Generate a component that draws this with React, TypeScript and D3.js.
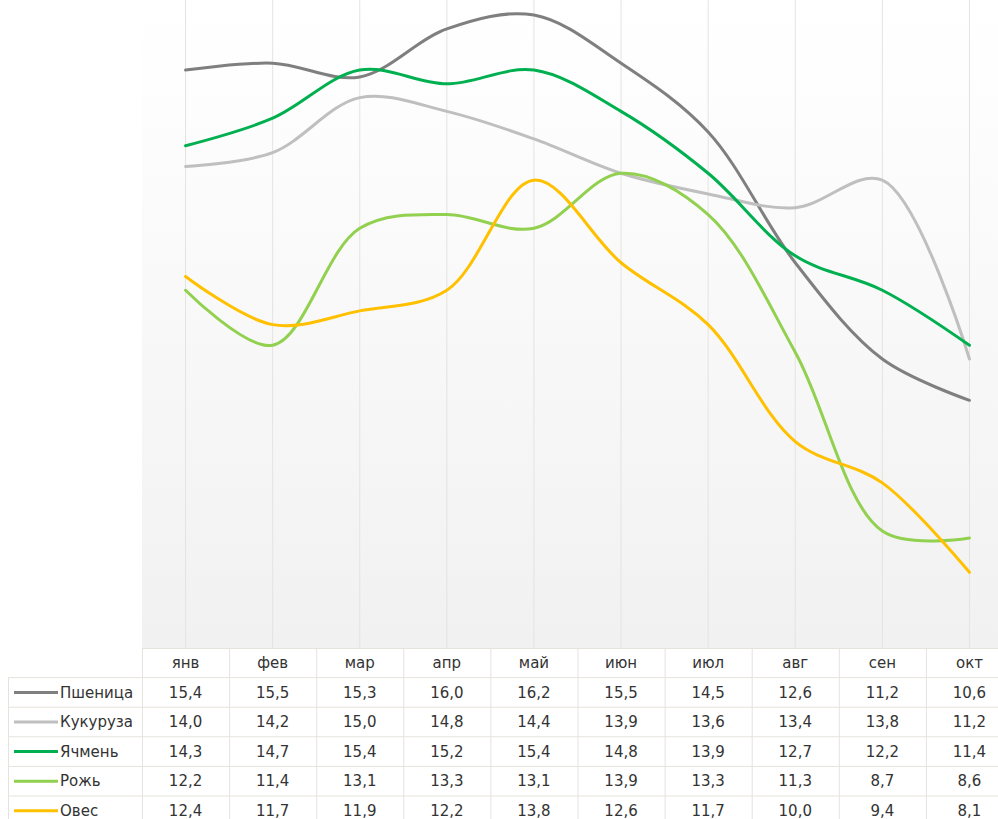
import React from "react";
import * as d3 from "d3";

const months = ["янв", "фев", "мар", "апр", "май", "июн", "июл", "авг", "сен", "окт"];
const seriesNames = ["Пшеница", "Кукуруза", "Ячмень", "Рожь", "Овес"];
const colors = ["#7f7f7f", "#bfbfbf", "#00b050", "#92d050", "#ffc000"];
const wheat = [15.4, 15.5, 15.3, 16.0, 16.2, 15.5, 14.5, 12.6, 11.2, 10.6];
const corn = [14.0, 14.2, 15.0, 14.8, 14.4, 13.9, 13.6, 13.4, 13.8, 11.2];
const barley = [14.3, 14.7, 15.4, 15.2, 15.4, 14.8, 13.9, 12.7, 12.2, 11.4];
const rye = [12.2, 11.4, 13.1, 13.3, 13.1, 13.9, 13.3, 11.3, 8.7, 8.6];
const oats = [12.4, 11.7, 11.9, 12.2, 13.8, 12.6, 11.7, 10.0, 9.4, 8.1];
const allValues = [wheat, corn, barley, rye, oats];

const W = 998;
const H = 819;
const plotLeft = 142;
const plotRight = 1013;
const plotBottom = 648;
const rowH = 29.6;
const font = "'DejaVu Sans', sans-serif";

export default function App() {
  const x = d3.scaleBand<string>().domain(months).range([plotLeft, plotRight]);
  const y = d3.scaleLinear().domain([7, 16.5]).range([plotBottom, -5.6]);
  const line = d3
    .line<number>()
    .x((_, i) => (x(months[i]) as number) + x.bandwidth() / 2)
    .y((d) => y(d))
    .curve(d3.curveCatmullRom.alpha(0.5));

  const fmt = (v: number) => v.toFixed(1).replace(".", ",");
  const tableTop = plotBottom;
  const bw = x.bandwidth();

  return (
    <svg
      width={W}
      height={H}
      style={{ position: "absolute", left: 0, top: 0, display: "block" }}
    >
      <defs>
        <linearGradient id="bg" x1="0" y1="0" x2="0" y2="1">
          <stop offset="0" stopColor="#ffffff" />
          <stop offset="0.17" stopColor="#fdfdfd" />
          <stop offset="1" stopColor="#f1f1f1" />
        </linearGradient>
      </defs>
      <rect x={plotLeft} y={0} width={plotRight - plotLeft} height={plotBottom} fill="url(#bg)" />
      {months.map((m) => (
        <line
          key={m}
          x1={(x(m) as number) + bw / 2}
          x2={(x(m) as number) + bw / 2}
          y1={0}
          y2={plotBottom}
          stroke="#e6e3dd"
          strokeWidth={1}
        />
      ))}
      {allValues.map((vals, i) => (
        <path
          key={seriesNames[i]}
          d={line(vals) || ""}
          fill="none"
          stroke={colors[i]}
          strokeWidth={3}
          strokeLinejoin="round"
          strokeLinecap="round"
        />
      ))}

      {/* data table */}
      <g fontFamily={font} fontSize={15} fill="#333">
        <rect x={plotLeft} y={tableTop} width={plotRight - plotLeft} height={H - tableTop} fill="#fff" />
        <rect x={8} y={tableTop + rowH} width={plotLeft - 8} height={H - tableTop - rowH} fill="#fff" />
        {/* horizontal borders */}
        <line x1={plotLeft} x2={plotRight} y1={tableTop + 0.5} y2={tableTop + 0.5} stroke="#e6e3dd" />
        {d3.range(1, 6).map((r) => (
          <line
            key={r}
            x1={8}
            x2={plotRight}
            y1={tableTop + r * rowH}
            y2={tableTop + r * rowH}
            stroke="#e6e3dd"
          />
        ))}
        {/* vertical borders */}
        <line x1={8.5} x2={8.5} y1={tableTop + rowH} y2={H} stroke="#e6e3dd" />
        {months.map((m) => (
          <line
            key={m}
            x1={(x(m) as number) + 0.5}
            x2={(x(m) as number) + 0.5}
            y1={tableTop}
            y2={H}
            stroke="#e6e3dd"
          />
        ))}
        {months.map((m) => (
          <text
            key={m}
            x={(x(m) as number) + bw / 2}
            y={tableTop + rowH / 2}
            dy="0.35em"
            textAnchor="middle"
          >
            {m}
          </text>
        ))}
        {allValues.map((vals, r) => {
          const cy = tableTop + (r + 1.5) * rowH;
          return (
            <g key={seriesNames[r]}>
              <line x1={14} x2={58} y1={cy} y2={cy} stroke={colors[r]} strokeWidth={3} />
              <text x={60} y={cy} dy="0.35em">
                {seriesNames[r]}
              </text>
              {vals.map((v, c) => (
                <text
                  key={c}
                  x={(x(months[c]) as number) + bw / 2}
                  y={cy}
                  dy="0.35em"
                  textAnchor="middle"
                >
                  {fmt(v)}
                </text>
              ))}
            </g>
          );
        })}
      </g>
    </svg>
  );
}
